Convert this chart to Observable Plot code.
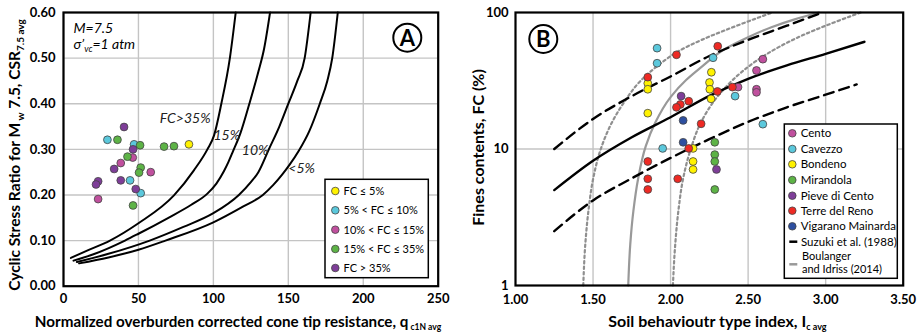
<!DOCTYPE html>
<html><head><meta charset="utf-8">
<script src="https://cdn.jsdelivr.net/npm/d3@7"></script>
<script src="https://cdn.jsdelivr.net/npm/@observablehq/plot@0.6"></script>
<style>
body{margin:0;background:#fff;}
#wrap{position:relative;width:921px;height:336px;overflow:hidden;}
.panel{position:absolute;top:0;}
</style></head><body><div id="wrap"><div class="panel" id="pa" style="left:0"></div><div class="panel" id="pb" style="left:460px"></div></div>
<script>
// ---------- Panel A data ----------
const classLabels = ["FC \u2264 5%", "5% < FC \u2264 10%", "10% < FC \u2264 15%", "15% < FC \u2264 35%", "FC > 35%"];
const classColors = ["#fff200", "#5bc8dc", "#c0509e", "#5db346", "#7e3e98"];
const aQ   = [83.7, 29.3, 47.1, 44.4, 51.5, 46.2, 38.2, 58.2, 23.1, 36.0, 51.1, 67.1, 73.7, 42.7, 51.5, 50.4, 46.4, 40.4, 46.4, 33.8, 23.1, 21.7, 38.2, 48.2];
const aCSR = [0.311, 0.321, 0.311, 0.232, 0.204, 0.282, 0.270, 0.250, 0.191, 0.321, 0.309, 0.306, 0.307, 0.284, 0.260, 0.249, 0.177, 0.349, 0.300, 0.257, 0.230, 0.223, 0.232, 0.213];
const aClass = [0, 1, 1, 1, 1, 2, 2, 2, 2, 3, 3, 3, 3, 3, 3, 3, 3, 4, 4, 4, 4, 4, 4, 4];

const crr35Q   = [4.9, 15, 31, 50, 73.7, 87, 96, 100.4, 105.3, 111, 114.9];
const crr35CSR = [0.062, 0.077, 0.10, 0.138, 0.199, 0.254, 0.30, 0.33, 0.40, 0.50, 0.60];
const crr15Q   = [6.7, 20, 41, 50, 70, 85, 96, 102, 107, 110, 113, 118, 124, 130, 133.8, 137.8];
const crr15CSR = [0.056, 0.07, 0.10, 0.115, 0.150, 0.178, 0.203, 0.225, 0.252, 0.272, 0.295, 0.335, 0.40, 0.47, 0.52, 0.60];
const crr10Q   = [8.9, 30, 57.5, 80, 100, 117, 125, 130, 137, 144, 150, 156, 160.9, 164.9];
const crr10CSR = [0.053, 0.071, 0.10, 0.13, 0.16, 0.20, 0.228, 0.25, 0.30, 0.35, 0.40, 0.45, 0.50, 0.60];
const crr5Q    = [10.4, 30, 50, 68, 100, 120, 133, 140, 146, 151, 157, 164, 171, 176, 179.3, 183];
const crr5CSR  = [0.05, 0.063, 0.08, 0.10, 0.14, 0.175, 0.20, 0.222, 0.245, 0.267, 0.297, 0.34, 0.40, 0.45, 0.50, 0.60];

const curveLabelText = ["FC>35%", "15%", "10%", "<5%"];
const curveLabelQ    = [81.2, 108.9, 127.9, 158.9];
const curveLabelCSR  = [0.367, 0.330, 0.298, 0.257];

const aXTicks = [0, 50, 100, 150, 200, 250];
const aYTicks = [0, 0.1, 0.2, 0.3, 0.4, 0.5, 0.6];

// ---------- Panel B data ----------
const siteNames  = ["Cento", "Cavezzo", "Bondeno", "Mirandola", "Pieve di Cento", "Terre del Reno", "Vigarano Mainarda"];
const siteColors = ["#c0509e", "#5bc8dc", "#fff200", "#5db346", "#7e3e98", "#ee2a24", "#2e4fa0"];
const bIc = [2.435, 2.554, 2.595, 2.554, 2.554,
             1.913, 1.913, 2.274, 2.416, 2.595, 1.949,
             1.853, 1.853, 1.853, 2.263, 2.251, 2.253, 2.261, 2.145, 2.145, 2.145,
             2.285, 2.285, 2.285, 2.285,
             2.068, 2.296,
             1.853, 1.853, 1.853, 1.853, 2.038, 2.304, 2.302, 2.399, 2.117, 2.063, 2.038, 2.197, 2.117, 2.046,
             2.081, 2.081];
const bFC = [28.4, 37.6, 45.5, 27.4, 26.0,
             54.8, 42.5, 46.6, 24.4, 15.2, 10.1,
             30.3, 27.4, 18.3, 36.5, 30.7, 27.4, 23.3, 10.1, 8.1, 7.08,
             11.2, 9.1, 8.1, 5.05,
             24.4, 7.08,
             33.6, 8.1, 6.05, 5.05, 49.0, 56.6, 26.4, 28.4, 22.4, 21.2, 20.2, 15.3, 10.1, 6.05,
             16.2, 11.2];
const bSite = [0,0,0,0,0, 1,1,1,1,1,1, 2,2,2,2,2,2,2,2,2,2, 3,3,3,3, 4,4, 5,5,5,5,5,5,5,5,5,5,5,5,5,5, 6,6];

const suzIc   = [1.25, 1.5, 1.75, 2.0, 2.25, 2.5, 2.75, 3.0, 3.25];
const suzFC   = [5.0, 8.2, 12.2, 17.1, 24.5, 32.7, 41, 49.8, 61];
const suzUpIc = [1.25, 1.5, 1.75, 2.0, 2.25, 2.5, 2.75, 2.98];
const suzUpFC = [10, 16.6, 24.4, 34, 48, 63, 80, 100];
const suzLoIc = [1.25, 1.5, 1.75, 2.0, 2.25, 2.5, 2.75, 3.0, 3.2];
const suzLoFC = [2.5, 4.2, 6.1, 8.6, 11.8, 15.8, 20.2, 25, 29.7];

const biIc   = [1.727, 1.74, 1.76, 1.79, 1.84, 1.90, 2.0, 2.1, 2.2, 2.35, 2.5, 2.65, 2.8, 2.957];
const biFC   = [1, 2, 3.5, 6, 10.5, 15.5, 24, 32, 40, 54, 66, 78, 89, 100];
const biLoIc = [1.437, 1.45, 1.47, 1.50, 1.55, 1.62, 1.70, 1.80, 1.92, 2.05, 2.2, 2.35, 2.5, 2.656];
const biLoFC = [1, 2, 3.5, 6, 10, 15.5, 22, 31, 41, 52, 63, 74, 86, 100];
const biHiIc = [2.015, 2.03, 2.05, 2.08, 2.13, 2.2, 2.3, 2.4, 2.55, 2.7, 2.85, 3.0, 3.226];
const biHiFC = [1, 2, 3.5, 6, 10, 16, 24, 32, 44, 56, 68, 80, 100];

const bXTicks = [1, 1.5, 2, 2.5, 3, 3.5];
const bYTicks = [1, 10, 100];

// ---------- helpers ----------
const FONT = "Lato, 'Open Sans', sans-serif";
const GRID = "#c4c4c4";
function zipXY(xs, ys) { return xs.map((x, i) => ({x, y: ys[i]})); }

function rich(sel, x, y, parts, o) {
  const t = sel.append("text")
    .attr("x", x).attr("y", y)
    .attr("text-anchor", o.anchor || "middle")
    .attr("font-family", FONT).attr("font-size", o.size)
    .attr("font-weight", o.weight || "bold")
    .attr("font-style", o.style || "normal")
    .attr("fill", "#000");
  if (o.rotate) t.attr("transform", `rotate(${o.rotate},${x},${y})`);
  const shift = o.shift || 4;
  let sub = false;
  for (const [s, isSub] of parts) {
    const ts = t.append("tspan").text(s);
    if (isSub && !sub) { ts.attr("dy", shift).attr("font-size", o.subSize); }
    else if (isSub) { ts.attr("font-size", o.subSize); }
    else if (!isSub && sub) { ts.attr("dy", -shift); }
    sub = isSub;
  }
  return t;
}
function plainText(sel, x, y, s, size) {
  return sel.append("text").attr("x", x).attr("y", y)
    .attr("text-anchor", "start").attr("font-family", FONT)
    .attr("font-size", size).attr("font-weight", "normal").attr("fill", "#000").text(s);
}

// ---------- Panel A ----------
const aPts = aQ.map((q, i) => ({q, csr: aCSR[i], c: classColors[aClass[i]]}));
const aCurves = [[crr35Q, crr35CSR], [crr15Q, crr15CSR], [crr10Q, crr10CSR], [crr5Q, crr5CSR]];
const aLabels = curveLabelText.map((t, i) => ({t, q: curveLabelQ[i], csr: curveLabelCSR[i]}));

const plotA = Plot.plot({
  width: 460, height: 336,
  marginLeft: 63, marginRight: 22.3, marginTop: 12, marginBottom: 50.3,
  style: {fontFamily: FONT, fontSize: "13px", fontWeight: "bold", color: "#000", background: "transparent"},
  x: {domain: [0, 250], label: null},
  y: {domain: [0, 0.6], label: null},
  color: {type: "identity"},
  marks: [
    Plot.gridX(aXTicks, {stroke: GRID, strokeOpacity: 1, strokeWidth: 1.4}),
    Plot.gridY(aYTicks, {stroke: GRID, strokeOpacity: 1, strokeWidth: 1.4}),
    ...aCurves.map(([xs, ys]) => Plot.line(zipXY(xs, ys), {x: "x", y: "y", stroke: "#000", strokeWidth: 2, curve: "monotone-x"})),
    Plot.text(aLabels, {x: "q", y: "csr", text: "t", fontStyle: "italic", fontWeight: "normal", fontSize: 14, fill: "#222"}),
    Plot.dot(aPts, {x: "q", y: "csr", r: 3.9, fill: "c", stroke: "#444", strokeWidth: 0.8}),
    Plot.axisX(aXTicks, {tickSize: 0, tickPadding: 8, tickFormat: d => String(d), fontSize: 13, fontWeight: "bold", label: null}),
    Plot.axisY(aYTicks, {tickSize: 0, tickPadding: 8, tickFormat: d3.format(".2f"), fontSize: 13, fontWeight: "bold", label: null}),
    Plot.frame({stroke: "#000", strokeWidth: 2.2})
  ]
});
document.getElementById("pa").appendChild(plotA);
{
  const s = d3.select(plotA);
  const sx = plotA.scale("x"), sy = plotA.scale("y");
  rich(s, sx.apply(7), sy.apply(0.553), [["M=7.5", false]], {anchor: "start", size: 14, weight: "normal", style: "italic"});
  rich(s, sx.apply(7), sy.apply(0.518), [["\u03c3\u2019", false], ["vc", true], ["=1 atm", false]], {anchor: "start", size: 14, subSize: 9, weight: "normal", style: "italic", shift: 3});
  s.append("circle").attr("cx", 407.3).attr("cy", 37.7).attr("r", 14).attr("fill", "#fff").attr("stroke", "#000").attr("stroke-width", 2);
  s.append("text").attr("x", 407.3).attr("y", 45.5).attr("text-anchor", "middle").attr("font-family", FONT).attr("font-weight", "bold").attr("font-size", 22).text("A");
  rich(s, 238, 327, [["Normalized overburden corrected cone tip resistance, q", false], [" c1N avg", true]], {size: 15.2, subSize: 8.5, shift: 3});
  rich(s, 20, 155, [["Cyclic Stress Ratio for M", false], [" w", true], [" 7.5, CSR", false], ["7.5 avg", true]], {size: 15.5, subSize: 10, shift: 4, rotate: -90});
  const lg = s.append("g");
  lg.append("rect").attr("x", 325).attr("y", 179.3).attr("width", 103.3).attr("height", 98.4).attr("fill", "#fff").attr("stroke", "#000").attr("stroke-width", 1.5);
  const ly = [191, 210.3, 229.7, 249, 268];
  classLabels.forEach((lab, i) => {
    lg.append("circle").attr("cx", 335.3).attr("cy", ly[i]).attr("r", 3.8).attr("fill", classColors[i]).attr("stroke", "#444").attr("stroke-width", 0.8);
    plainText(lg, 343.5, ly[i] + 4, lab, 11);
  });
}

// ---------- Panel B ----------
const bPts = bIc.map((ic, i) => ({ic, fc: bFC[i], c: siteColors[bSite[i]]}));
const plotB = Plot.plot({
  width: 461, height: 336,
  marginLeft: 55, marginRight: 18.3, marginTop: 12, marginBottom: 51,
  style: {fontFamily: FONT, fontSize: "13px", fontWeight: "bold", color: "#000", background: "transparent"},
  x: {domain: [1, 3.5], label: null},
  y: {type: "log", domain: [1, 100], label: null},
  color: {type: "identity"},
  marks: [
    Plot.gridX([1.5, 2, 2.5, 3], {stroke: GRID, strokeOpacity: 1, strokeWidth: 1.4}),
    Plot.gridY([10], {stroke: GRID, strokeOpacity: 1, strokeWidth: 1.4}),
    Plot.line(zipXY(biLoIc, biLoFC), {x: "x", y: "y", stroke: "#8f8f8f", strokeWidth: 2.2, strokeDasharray: "2.5,3", curve: "monotone-y"}),
    Plot.line(zipXY(biHiIc, biHiFC), {x: "x", y: "y", stroke: "#8f8f8f", strokeWidth: 2.2, strokeDasharray: "2.5,3", curve: "monotone-y"}),
    Plot.line(zipXY(biIc, biFC), {x: "x", y: "y", stroke: "#999", strokeWidth: 2.2, curve: "monotone-y"}),
    Plot.line(zipXY(suzUpIc, suzUpFC), {x: "x", y: "y", stroke: "#000", strokeWidth: 2.4, strokeDasharray: "10,6", curve: "monotone-x"}),
    Plot.line(zipXY(suzLoIc, suzLoFC), {x: "x", y: "y", stroke: "#000", strokeWidth: 2.4, strokeDasharray: "10,6", curve: "monotone-x"}),
    Plot.line(zipXY(suzIc, suzFC), {x: "x", y: "y", stroke: "#000", strokeWidth: 2.4, curve: "monotone-x"}),
    Plot.dot(bPts, {x: "ic", y: "fc", r: 3.9, fill: "c", stroke: "#444", strokeWidth: 0.8}),
    Plot.axisX(bXTicks, {tickSize: 0, tickPadding: 9, tickFormat: d3.format(".2f"), fontSize: 13, fontWeight: "bold", label: null}),
    Plot.axisY(bYTicks, {tickSize: 0, tickPadding: 7, tickFormat: d => String(d), fontSize: 13, fontWeight: "bold", label: null}),
    Plot.frame({stroke: "#000", strokeWidth: 2.2})
  ]
});
document.getElementById("pb").appendChild(plotB);
{
  const s = d3.select(plotB);
  s.append("circle").attr("cx", 83.3).attr("cy", 39).attr("r", 14).attr("fill", "#fff").attr("stroke", "#000").attr("stroke-width", 2);
  s.append("text").attr("x", 83.3).attr("y", 46.8).attr("text-anchor", "middle").attr("font-family", FONT).attr("font-weight", "bold").attr("font-size", 22).text("B");
  rich(s, 257.5, 327, [["Soil behavioutr type index, I", false], ["c avg", true]], {size: 16, subSize: 9, shift: 3});
  rich(s, 24, 147.5, [["Fines contents, FC (%)", false]], {size: 16, rotate: -90});
  const lg = s.append("g");
  lg.append("rect").attr("x", 324.3).attr("y", 124).attr("width", 113).attr("height", 154.3).attr("fill", "#fff").attr("stroke", "#000").attr("stroke-width", 1.5);
  const ly = [133.3, 149, 164.3, 180, 195.7, 210.7, 226.3];
  siteNames.forEach((n, i) => {
    lg.append("circle").attr("cx", 332.3).attr("cy", ly[i]).attr("r", 3.8).attr("fill", siteColors[i]).attr("stroke", "#444").attr("stroke-width", 0.8);
    plainText(lg, 340.7, ly[i] + 4, n, 11.5);
  });
  lg.append("line").attr("x1", 329.3).attr("x2", 337.3).attr("y1", 241.7).attr("y2", 241.7).attr("stroke", "#000").attr("stroke-width", 2.5);
  plainText(lg, 341, 245.7, "Suzuki et al. (1988)", 11.5);
  lg.append("line").attr("x1", 329.3).attr("x2", 337.3).attr("y1", 264.3).attr("y2", 264.3).attr("stroke", "#999").attr("stroke-width", 2.5);
  plainText(lg, 342, 260, "Boulanger", 11);
  plainText(lg, 342, 272.5, "and Idriss (2014)", 11);
}
</script></body></html>
